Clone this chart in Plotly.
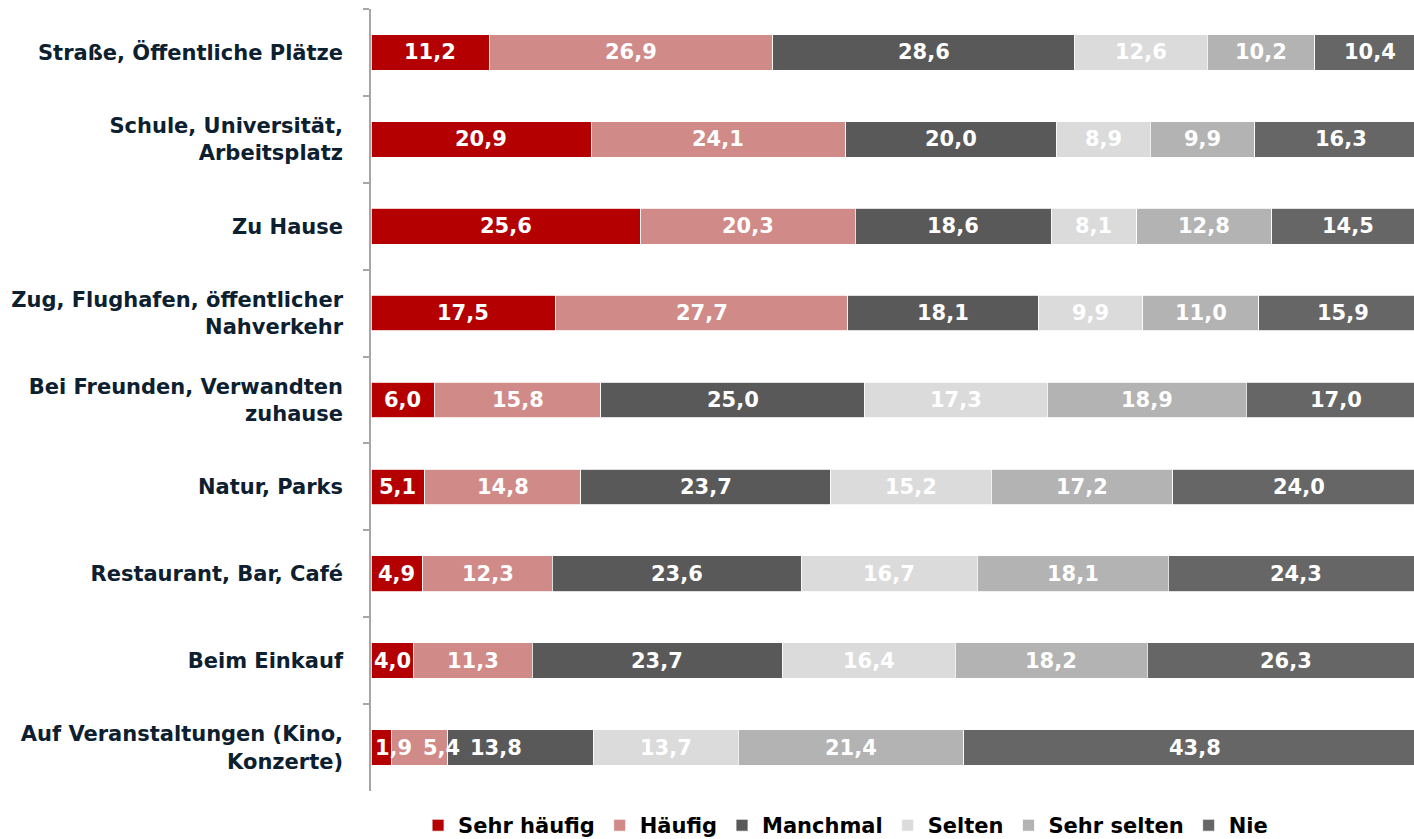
import plotly.graph_objects as go

categories = [
    "Straße, Öffentliche Plätze",
    "Schule, Universität,<br>Arbeitsplatz",
    "Zu Hause",
    "Zug, Flughafen, öffentlicher<br>Nahverkehr",
    "Bei Freunden, Verwandten<br>zuhause",
    "Natur, Parks",
    "Restaurant, Bar, Café",
    "Beim Einkauf",
    "Auf Veranstaltungen (Kino,<br>Konzerte)",
]

series_names = ["Sehr häufig", "Häufig", "Manchmal", "Selten", "Sehr selten", "Nie"]

sehr_haeufig = [11.2, 20.9, 25.6, 17.5, 6.0, 5.1, 4.9, 4.0, 1.9]
haeufig = [26.9, 24.1, 20.3, 27.7, 15.8, 14.8, 12.3, 11.3, 5.4]
manchmal = [28.6, 20.0, 18.6, 18.1, 25.0, 23.7, 23.6, 23.7, 13.8]
selten = [12.6, 8.9, 8.1, 9.9, 17.3, 15.2, 16.7, 16.4, 13.7]
sehr_selten = [10.2, 9.9, 12.8, 11.0, 18.9, 17.2, 18.1, 18.2, 21.4]
nie = [10.4, 16.3, 14.5, 15.9, 17.0, 24.0, 24.3, 26.3, 43.8]

series_values = [sehr_haeufig, haeufig, manchmal, selten, sehr_selten, nie]
colors = ["#B40000", "#D08A88", "#595959", "#DBDBDB", "#B3B3B3", "#666666"]

FONT = "Verdana, 'DejaVu Sans', sans-serif"
SIZE = 21

fig = go.Figure()
for name, vals, col in zip(series_names, series_values, colors):
    fig.add_trace(go.Bar(
        y=categories, x=vals, name=name, orientation="h",
        marker=dict(color=col, line=dict(color="#FFFFFF", width=0.8)),
        width=0.41, hoverinfo="x+y+name",
    ))

# value labels centred in each segment; the crowded last row is spread apart
label_shift = {(8, 0): 12, (8, 1): 22, (8, 2): -25}
annotations = []
for i, cat in enumerate(categories):
    left = 0.0
    for j, vals in enumerate(series_values):
        v = vals[i]
        annotations.append(dict(
            x=left + v / 2, y=cat, xref="x", yref="y",
            text=f"{v:.1f}".replace(".", ","), showarrow=False,
            xshift=label_shift.get((i, j), 0),
            font=dict(family=FONT, size=SIZE, color="#FFFFFF", weight="bold"),
        ))
        left += v

fig.update_layout(
    barmode="stack",
    width=1414, height=839,
    margin=dict(l=371, r=0, t=9, b=48, autoexpand=False),
    paper_bgcolor="#FFFFFF", plot_bgcolor="#FFFFFF",
    font=dict(family=FONT, size=SIZE, color="#0D2030", weight="bold"),
    showlegend=True,
    legend=dict(
        orientation="h", xref="container", yref="container",
        x=0.598, xanchor="center", y=0.016, yanchor="middle",
        font=dict(family=FONT, size=SIZE, color="#000000", weight="bold"),
        itemwidth=30, traceorder="normal", tracegroupgap=0,
    ),
    annotations=annotations,
    xaxis=dict(range=[0, 98.9], visible=False, fixedrange=True),
    yaxis=dict(
        autorange="reversed", showline=True, linecolor="#A6A6A6", linewidth=1.5,
        ticks="outside", ticklen=6, tickcolor="#A6A6A6", tickwidth=1.5,
        tickson="boundaries", ticklabelstandoff=22,
        tickfont=dict(family=FONT, size=SIZE, color="#0D2030", weight="bold"),
        showgrid=False,
    ),
)

fig.write_html("out.html")
